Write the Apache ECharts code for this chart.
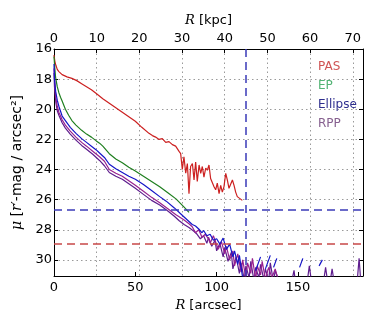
<!DOCTYPE html>
<html>
<head>
<meta charset="utf-8">
<script src="https://cdn.jsdelivr.net/npm/echarts@6/dist/echarts.min.js"></script>
<style>
  html, body { margin: 0; padding: 0; background: #fff; }
  #chart { width: 390px; height: 325px; }
</style>
</head>
<body>
<div id="chart"></div>
<script>
// radial profiles, R in arcsec, mu in mag/arcsec^2 (null = gap)
const pasR = [0, 0.5, 1.2, 2, 3, 5, 8, 11, 14, 17, 20, 23, 26, 30, 34, 38, 42, 46, 50, 54,
  58.4, 60.5, 62.5, 64.6, 66.6, 68.7, 70.7, 72.8, 74.8, 76.9, 77.9, 78.9, 79.9, 81.0, 82.0,
  83.0, 84.0, 85.1, 86.1, 87.1, 88.1, 89.2, 90.2, 91.2, 92.2, 93.3, 94.3, 95.3, 96.3, 97.4,
  98.4, 99.4, 100.4, 101.5, 102.5, 103.5, 104.5, 105.6, 106.6, 107.6, 108.6, 109.7, 110.7,
  111.7, 112.7, 113.8, 115.8];
const pasMu = [16.4, 16.8, 17.1, 17.35, 17.5, 17.7, 17.85, 17.95, 18.1, 18.3, 18.5, 18.7, 18.95,
  19.3, 19.6, 19.9, 20.2, 20.5, 20.8, 21.2, 21.6, 21.75, 21.85, 22.0, 21.95, 22.2, 22.15, 22.35,
  22.45, 22.8, 22.95, 24.0, 23.15, 24.25, 23.6, 25.6, 23.8, 23.6, 24.7, 23.5, 24.8, 23.7, 24.25,
  23.8, 24.5, 23.9, 24.05, 23.7, 24.6, 24.7, 25.15, 25.35, 24.9, 25.6, 25.05, 25.5, 25.15, 24.25,
  24.7, 25.25, 25.35, 24.7, 25.05, 25.5, 25.8, 25.9, 26.05];

const epR = [0, 0.5, 1, 2, 3, 4, 5, 7, 9, 11, 13.5, 17, 20, 23, 26, 28, 30, 34, 38, 42, 46, 50,
  55, 60, 65, 70, 75, 80, 83];
const epMu = [16.5, 17.3, 17.9, 18.5, 18.9, 19.2, 19.45, 20.0, 20.4, 20.75, 21.05, 21.4, 21.65,
  21.85, 22.1, 22.25, 22.45, 22.95, 23.3, 23.55, 23.85, 24.1, 24.45, 24.8, 25.15, 25.55, 25.95,
  26.5, 26.85];

const ellR = [0, 0.3, 1, 2, 3, 5, 7, 10, 13.5, 17, 20, 23, 26, 28, 31, 34, 38, 42, 46, 50, 55, 60,
  65, 69, 74, 78, 83, 85, 87, 89, 91, 92, 94, 96, 98, 100, 102, 104, 106, 108, 110, 111, 113, 114,
  116, 117, 118, 124, 127, 128, 130, 133, 134, 135, 137, 138, 151, 153, 154, 163, 165];
const ellMu = [17.0, 18.0, 18.8, 19.4, 19.8, 20.45, 20.75, 21.2, 21.6, 21.95, 22.2, 22.45, 22.7,
  22.9, 23.2, 23.65, 23.95, 24.2, 24.45, 24.65, 25.0, 25.4, 25.8, 26.1, 26.55, 26.95, 27.45, 27.65,
  27.75, 27.95, 28.2, 28.05, 28.4, 28.3, 28.7, 28.6, 28.95, 28.55, 29.3, 28.95, 29.8, 29.4, 30.3,
  29.7, 31.2, 32, null, 30.7, 29.8, null, 30.6, 29.7, null, 30.5, 29.9, null, 30.5, 29.9, null,
  30.4, 30.0];

const rppR = [0, 0.3, 1.2, 2, 3, 5, 7, 10, 13.5, 17, 20, 24, 28, 31, 34, 38, 42, 46, 50, 55, 60,
  65, 70, 74, 77, 80, 83, 86, 88, 90, 92, 94, 95, 97, 99, 100, 102, 104, 105, 107, 109, 110, 112,
  114, 115, 117, 118, 120, 121, 123, 124, 126, 127, 129, 130, 132, 133, 135, 136, 138, 140, 145,
  147.6, 149, 155, 157, 159, 165, 167, 169, 171, 173, 180, 186, 187.6, 189];
const rppMu = [17.6, 18.5, 19.6, 20.1, 20.4, 20.9, 21.25, 21.65, 22.05, 22.4, 22.65, 23.0, 23.4,
  23.75, 24.2, 24.45, 24.65, 24.95, 25.25, 25.65, 26.05, 26.35, 26.75, 27.1, 27.4, 27.65, 27.85,
  28.1, 28.3, 28.6, 28.4, 28.9, 28.5, 29.1, 28.7, 29.4, 28.9, 29.8, 29.2, 30.1, 29.5, 30.6, 29.8,
  30.9, 30.2, 31.3, 30.4, 31.2, 30.1, 31.4, 30.5, 31.2, 30.3, 31.3, 30.6, 31.4, 30.2, 31.5, 30.7,
  31.3, 32, 32, 30.7, 32, 32, 30.4, 32, 32, 30.5, 32, 30.6, 32, 32, 32, 29.9, 32];

const rpp2R = [0, 1, 2, 3, 5, 7, 10, 13.5, 17, 20, 24, 28, 31, 34, 38, 42, 46, 50, 55, 60, 65, 70,
  75, 80, 83, 85, 87, 89, 91, 93, 95, 96, 98, 100, 101, 103, 105, 106, 108, 110, 111, 113, 115,
  116, 118, 119, 121, 122, 124, 125, 127, 128, 130, 132, 134, 136, 138, 140];
const rpp2Mu = [17.3, 19.2, 19.8, 20.2, 20.7, 21.05, 21.45, 21.85, 22.2, 22.45, 22.8, 23.15, 23.45,
  24.0, 24.25, 24.45, 24.75, 25.05, 25.45, 25.85, 26.2, 26.6, 27.0, 27.35, 27.6, 27.8, 28.2, 28.0,
  28.5, 28.3, 28.6, 28.9, 28.4, 29.0, 29.3, 28.8, 29.6, 29.1, 30.0, 29.4, 30.4, 29.6, 30.8, 30.0,
  31.2, 30.2, 30.9, 29.9, 31.3, 30.4, 31.0, 30.1, 31.3, 30.5, 31.2, 30.6, 31.4, 32];

// limits
const rLimit = 118;
const muLimitEllipse = 26.65;
const muLimitPas = 28.9;

const arcsecTicks = [0, 50, 100, 150];
const kpcTicks = [0, 10, 20, 30, 40, 50, 60, 70];
const muTicks = [16, 18, 20, 22, 24, 26, 28, 30];

const rMax = 190;
const kpcPerArcsec = 0.381;
const muMin = 16;
const muMax = 31.07;

const pts = (xs, ys) => xs.map((x, i) => [x, ys[i] === null ? '-' : ys[i]]);

const font = 'DejaVu Sans';
const rich = { i: { fontFamily: 'DejaVu Serif', fontStyle: 'italic', fontSize: 13, color: '#000' } };
const richY = { i: { fontFamily: 'DejaVu Serif', fontStyle: 'italic', fontSize: 14, color: '#000' } };
const gridLine = { show: true, lineStyle: { color: '#9a9a9a', type: [1.5, 3], width: 1 } };
const tick = { show: true, inside: true, length: 4, lineStyle: { color: '#000' } };
const axisLine = { show: true, onZero: false, lineStyle: { color: '#000', width: 1 } };

const chart = echarts.init(document.getElementById('chart'));

const line = (name, data, color, extra) => Object.assign({
  name, type: 'line', data, showSymbol: false, symbol: 'none',
  lineStyle: { color, width: 1.2 }, itemStyle: { color }, clip: true, animation: false
}, extra || {});

chart.setOption({
  animation: false,
  textStyle: { fontFamily: font },
  grid: { left: 54, right: 27, top: 49, bottom: 49, containLabel: false, outerBoundsMode: 'none' },
  legend: {
    orient: 'vertical', left: 307, top: 56, itemWidth: 0, itemHeight: 0, itemGap: 7,
    textStyle: { fontSize: 12, fontFamily: font },
    data: [
      { name: 'PAS', textStyle: { color: '#d05454' } },
      { name: 'EP', textStyle: { color: '#52b374' } },
      { name: 'Ellipse', textStyle: { color: '#2e2e8e' } },
      { name: 'RPP', textStyle: { color: '#86608f' } }
    ],
    selectedMode: false
  },
  xAxis: [
    {
      type: 'value', position: 'bottom', min: 0, max: rMax, interval: 50,
      name: '{i|R} [arcsec]', nameLocation: 'middle', nameGap: 18,
      nameTextStyle: { fontSize: 13, color: '#000', verticalAlign: 'top', rich },
      axisLine, axisTick: tick, splitLine: { show: false },
      axisLabel: { fontSize: 13, color: '#000', margin: 5,
        formatter: v => arcsecTicks.includes(v) ? String(v) : '' }
    },
    {
      type: 'value', position: 'top', min: 0, max: rMax * kpcPerArcsec, interval: 10,
      name: '{i|R} [kpc]', nameLocation: 'middle', nameGap: 17,
      nameTextStyle: { fontSize: 13, color: '#000', verticalAlign: 'bottom', rich },
      axisLine, axisTick: tick, splitLine: gridLine,
      axisLabel: { fontSize: 13, color: '#000', margin: 4,
        formatter: v => kpcTicks.includes(v) ? String(v) : '' }
    }
  ],
  yAxis: [
    {
      type: 'value', position: 'left', inverse: true, min: muMin, max: muMax, interval: 2,
      name: '{i|μ} [{i|r}′-mag / arcsec²]', nameLocation: 'middle', nameGap: 26,
      nameTextStyle: { fontSize: 14, color: '#000', rich: richY },
      axisLine, axisTick: tick, splitLine: gridLine,
      axisLabel: { fontSize: 13, color: '#000', margin: 2,
        formatter: v => muTicks.includes(v) ? String(v) : '' }
    },
    {
      type: 'value', position: 'right', inverse: true, min: muMin, max: muMax, interval: 2,
      axisLine, axisTick: tick, splitLine: { show: false }, axisLabel: { show: false }
    }
  ],
  series: [
    line('PAS', pts(pasR, pasMu), '#cc2020'),
    line('EP', pts(epR, epMu), '#1f7f1f'),
    line('RPP', pts(rppR, rppMu), '#5e1d8e'),
    line('RPP2', pts(rpp2R, rpp2Mu), '#98208f'),
    line('Ellipse', pts(ellR, ellMu), '#1515c8', {
      markLine: {
        silent: true, symbol: 'none', animation: false, label: { show: false },
        data: [
          { xAxis: rLimit, lineStyle: { color: '#3a3ab8', type: [8, 5], width: 1.5 } },
          { yAxis: muLimitEllipse, lineStyle: { color: '#3a3ab8', type: [8, 5], width: 1.5 } },
          { yAxis: muLimitPas, lineStyle: { color: '#c84848', type: [8, 5], width: 1.5 } }
        ]
      }
    })
  ]
});
</script>
</body>
</html>
